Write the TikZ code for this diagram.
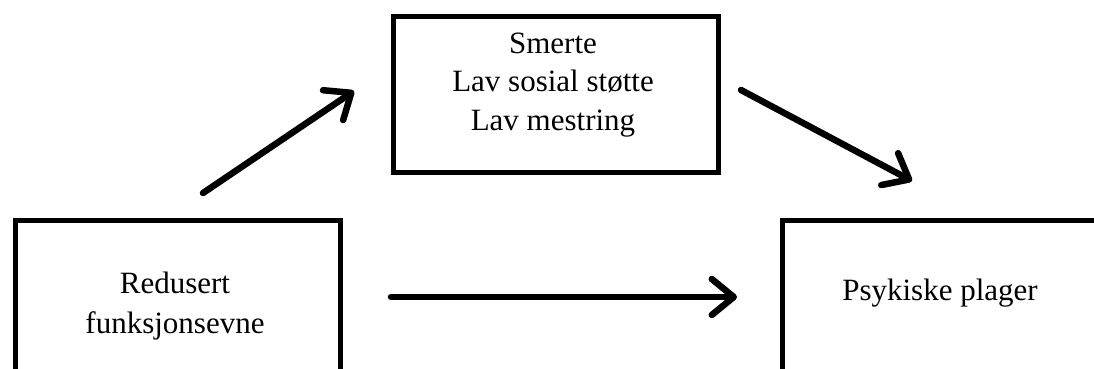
\documentclass[tikz,border=0pt]{standalone}
\usepackage{fontspec}
\setmainfont{Liberation Serif}
\usetikzlibrary{arrows.meta}
\begin{document}
\begin{tikzpicture}[x=1pt,y=-1pt,
  box/.style={draw=black,line width=5pt,rectangle,inner sep=0pt,anchor=north west},
  lbl/.style={font=\fontsize{31}{38}\selectfont,align=center,inner sep=0pt,anchor=base},
  conn/.style={line width=6.5pt,line cap=round,-{Straight Barb[length=22pt,width=36pt,line cap=round,line join=round]}}]
\useasboundingbox (0,0) rectangle (1094,369);
\clip (0,0) rectangle (1094,369);
% boxes
\node[box,minimum width=325pt,minimum height=155pt] (mid) at (390.5,14.5) {};
\node[box,minimum width=325pt,minimum height=200pt] (left) at (12.5,217.5) {};
\node[box,minimum width=360pt,minimum height=200pt] (right) at (779.5,217.5) {};
% texts
\node[lbl] (tmid1) at (553,53) {Smerte};
\node[lbl] (tmid2) at (553,92) {Lav sosial støtte};
\node[lbl] (tmid3) at (553,130) {Lav mestring};
\node[lbl] (tl1) at (175,293) {Redusert};
\node[lbl] (tl2) at (175,333) {funksjonsevne};
\node[lbl] (tr) at (940,300) {Psykiske plager};
% arrow end points
\coordinate (a1s) at (203,193);
\coordinate (a1e) at (354,91);
\coordinate (a2s) at (741,90);
\coordinate (a2e) at (912,181);
\coordinate (a3s) at (391,297);
\coordinate (a3e) at (737,297);
\draw[conn] (a1s) -- (a1e);
\draw[conn] (a2s) -- (a2e);
\draw[conn] (a3s) -- (a3e);
\end{tikzpicture}
\end{document}
